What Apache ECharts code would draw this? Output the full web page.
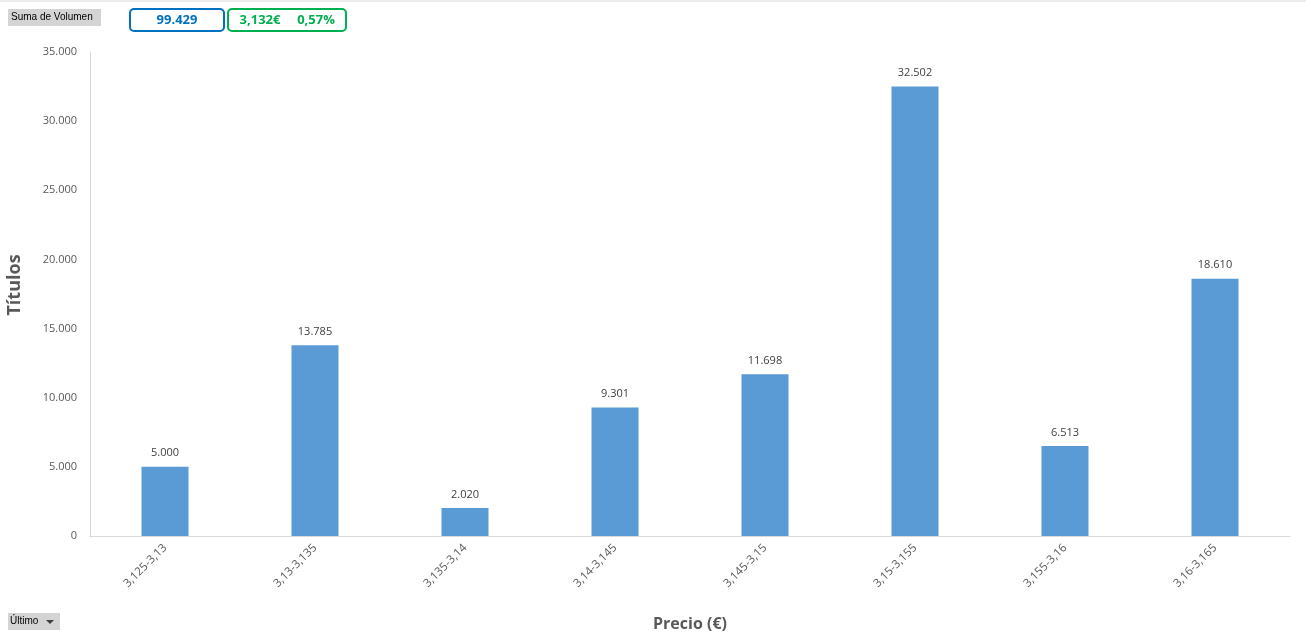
<!DOCTYPE html>
<html>
<head>
<meta charset="utf-8">
<script src="https://cdn.jsdelivr.net/npm/echarts@6/dist/echarts.min.js"></script>
<style>
  html, body { margin: 0; padding: 0; background: #fff; }
  #chart { width: 1306px; height: 637px; }
</style>
</head>
<body>
<div id="chart"></div>
<script>
// rangos de precio y volumen
const categories = ['3,125-3,13', '3,13-3,135', '3,135-3,14', '3,14-3,145', '3,145-3,15', '3,15-3,155', '3,155-3,16', '3,16-3,165']
const volumen = [5000, 13785, 2020, 9301, 11698, 32502, 6513, 18610]
const totalVolumen = '99.429'
const ultimoPrecio = '3,132€'
const variacion = '0,57%'

const fmt = v => String(v).replace(/\B(?=(\d{3})+(?!\d))/g, '.')
const font = '"Open Sans", "Liberation Sans", sans-serif'

const myChart = echarts.init(document.getElementById('chart'))
const option = {
  animation: false,
  textStyle: { fontFamily: font },
  grid: { left: 90, right: 16, top: 52, bottom: 101, outerBoundsMode: 'none', containLabel: false },
  xAxis: {
    type: 'category',
    data: categories,
    name: 'Precio (€)',
    nameLocation: 'middle',
    nameGap: 80,
    nameTextStyle: { fontSize: 16, fontWeight: 'bold', color: '#595959' },
    axisLine: { lineStyle: { color: '#d9d9d9' } },
    axisTick: { show: false },
    axisLabel: { rotate: 45, fontSize: 11.5, color: '#595959', margin: 10, interval: 0 }
  },
  yAxis: {
    type: 'value',
    min: 0,
    max: 35000,
    interval: 5000,
    name: 'Títulos',
    nameLocation: 'middle',
    nameGap: 66,
    nameTextStyle: { fontSize: 18, fontWeight: 'bold', color: '#595959', padding: [0, 0, 0, 18] },
    axisLine: { show: true, lineStyle: { color: '#d9d9d9' } },
    splitLine: { show: false },
    axisLabel: { fontSize: 11, color: '#595959', margin: 13, formatter: fmt }
  },
  series: [
    {
      type: 'bar',
      data: volumen,
      barWidth: 47,
      itemStyle: { color: '#5b9bd5' },
      label: {
        show: true,
        position: 'top',
        distance: 8,
        fontSize: 11,
        color: '#404040',
        formatter: p => fmt(p.value)
      }
    }
  ],
  graphic: [
    { type: 'line', shape: { x1: 0, y1: 1, x2: 1306, y2: 1 }, style: { stroke: '#d9d9d9', lineWidth: 1 } },
    // botón de campo
    { type: 'rect', shape: { x: 8, y: 9, width: 93, height: 17 }, style: { fill: '#d4d4d4' } },
    { type: 'text', left: 11, top: 12, style: { text: 'Suma de Volumen', font: '10px "Liberation Sans", sans-serif', fill: '#000' } },
    // cajas de totales
    { type: 'rect', shape: { x: 130, y: 9, width: 94, height: 22, r: 4 }, style: { fill: '#fff', stroke: '#0070c0', lineWidth: 2 } },
    { type: 'text', x: 177, y: 20, style: { text: totalVolumen, font: 'bold 13px ' + font, fill: '#0070c0', align: 'center', verticalAlign: 'middle' } },
    { type: 'rect', shape: { x: 228, y: 9, width: 118, height: 22, r: 4 }, style: { fill: '#fff', stroke: '#00b050', lineWidth: 2 } },
    { type: 'text', x: 260, y: 20, style: { text: ultimoPrecio, font: 'bold 13px ' + font, fill: '#00b050', align: 'center', verticalAlign: 'middle' } },
    { type: 'text', x: 316, y: 20, style: { text: variacion, font: 'bold 13px ' + font, fill: '#00b050', align: 'center', verticalAlign: 'middle' } },
    // botón inferior
    { type: 'rect', shape: { x: 8, y: 613, width: 52, height: 17 }, style: { fill: '#d4d4d4' } },
    { type: 'text', left: 10, top: 616, style: { text: 'Último', font: '10px "Liberation Sans", sans-serif', fill: '#000' } },
    { type: 'polygon', shape: { points: [[46, 620], [54, 620], [50, 624]] }, style: { fill: '#404040' } }
  ]
}
myChart.setOption(option)
window.addEventListener('resize', () => {
  myChart.resize()
})
</script>
</body>
</html>
